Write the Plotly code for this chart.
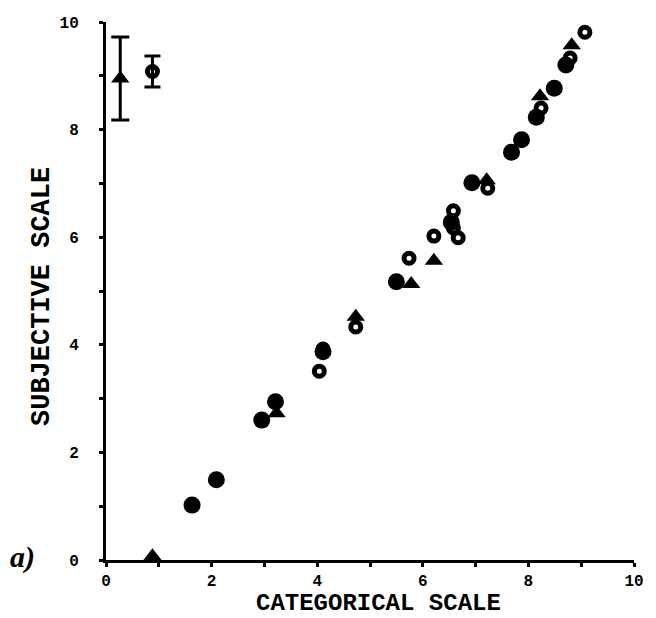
import plotly.graph_objects as go

# Subjective scale values plotted against the categorical scale, three groups
filled_x = [1.63, 2.09, 2.95, 3.21, 4.11, 5.50, 6.54, 6.93, 7.68, 7.87, 8.15, 8.49, 8.71]
filled_y = [1.02, 1.49, 2.60, 2.94, 3.87, 5.17, 6.28, 7.01, 7.58, 7.81, 8.23, 8.77, 9.20]

tri_x = [0.88, 3.23, 4.73, 5.78, 6.21, 7.21, 8.22, 8.82, 9.05]
tri_y = [0.07, 2.73, 4.52, 5.13, 5.56, 7.06, 8.62, 9.57, 10.17]

open_x = [4.04, 4.11, 4.73, 5.74, 6.21, 6.58, 6.58, 6.67, 7.23, 8.24, 8.79, 9.07]
open_y = [3.51, 3.92, 4.33, 5.61, 6.02, 6.49, 6.17, 5.99, 6.91, 8.40, 9.33, 9.81]

# Representative spread for the triangle and open-circle groups
err_tri = dict(x=[0.27], y=[8.95], e=[0.77])
err_open = dict(x=[0.88], y=[9.08], e=[0.29])

tick_vals = list(range(0, 11))
tick_text = [str(v) if v % 2 == 0 else "" for v in tick_vals]

INK = "#000000"

fig = go.Figure()

fig.add_trace(go.Scatter(
    x=filled_x, y=filled_y, mode="markers", cliponaxis=False,
    marker=dict(symbol="circle", size=17, color=INK, line=dict(width=0)),
))
fig.add_trace(go.Scatter(
    x=open_x, y=open_y, mode="markers", cliponaxis=False,
    marker=dict(symbol="circle-open", size=10, color=INK, line=dict(width=5, color=INK)),
))
fig.add_trace(go.Scatter(
    x=tri_x, y=tri_y, mode="markers", cliponaxis=False,
    marker=dict(symbol="triangle-up", size=16, color=INK, line=dict(width=0)),
))
fig.add_trace(go.Scatter(
    x=err_tri["x"], y=err_tri["y"], mode="markers", cliponaxis=False,
    error_y=dict(type="data", array=err_tri["e"], color=INK, thickness=3, width=9),
    marker=dict(symbol="triangle-up", size=16, color=INK),
))
fig.add_trace(go.Scatter(
    x=err_open["x"], y=err_open["y"], mode="markers", cliponaxis=False,
    error_y=dict(type="data", array=err_open["e"], color=INK, thickness=3, width=8),
    marker=dict(symbol="circle-open", size=10, color=INK, line=dict(width=5, color=INK)),
))

axis_common = dict(
    range=[0, 10], tickmode="array", tickvals=tick_vals, ticktext=tick_text,
    showgrid=False, zeroline=False, showline=True, linecolor=INK, linewidth=3,
    ticks="outside", ticklen=4, tickwidth=3, tickcolor=INK,
    tickfont=dict(family="Liberation Mono", size=16, color=INK, weight="bold"),
)

fig.update_layout(
    width=656, height=618,
    margin=dict(l=106, r=15, t=22, b=58),
    paper_bgcolor="white", plot_bgcolor="white",
    showlegend=False,
    xaxis=dict(**axis_common, ticklabelstandoff=0),
    yaxis=dict(**axis_common, ticklabelstandoff=17),
    annotations=[
        dict(text="CATEGORICAL SCALE", x=0.516, y=-0.08, xref="paper", yref="paper",
             xanchor="center", yanchor="middle", showarrow=False,
             font=dict(family="Liberation Mono", size=24, color=INK, weight="bold")),
        dict(text="SUBJECTIVE SCALE", x=-0.12, y=0.49, xref="paper", yref="paper",
             xanchor="center", yanchor="middle", showarrow=False, textangle=-90,
             font=dict(family="Liberation Mono", size=27, color=INK, weight="bold")),
        dict(text="<i>a)</i>", x=-0.158, y=0.005, xref="paper", yref="paper",
             xanchor="center", yanchor="middle", showarrow=False,
             font=dict(family="Liberation Serif", size=30, color=INK, weight="bold")),
    ],
)

fig.write_html("out.html")
